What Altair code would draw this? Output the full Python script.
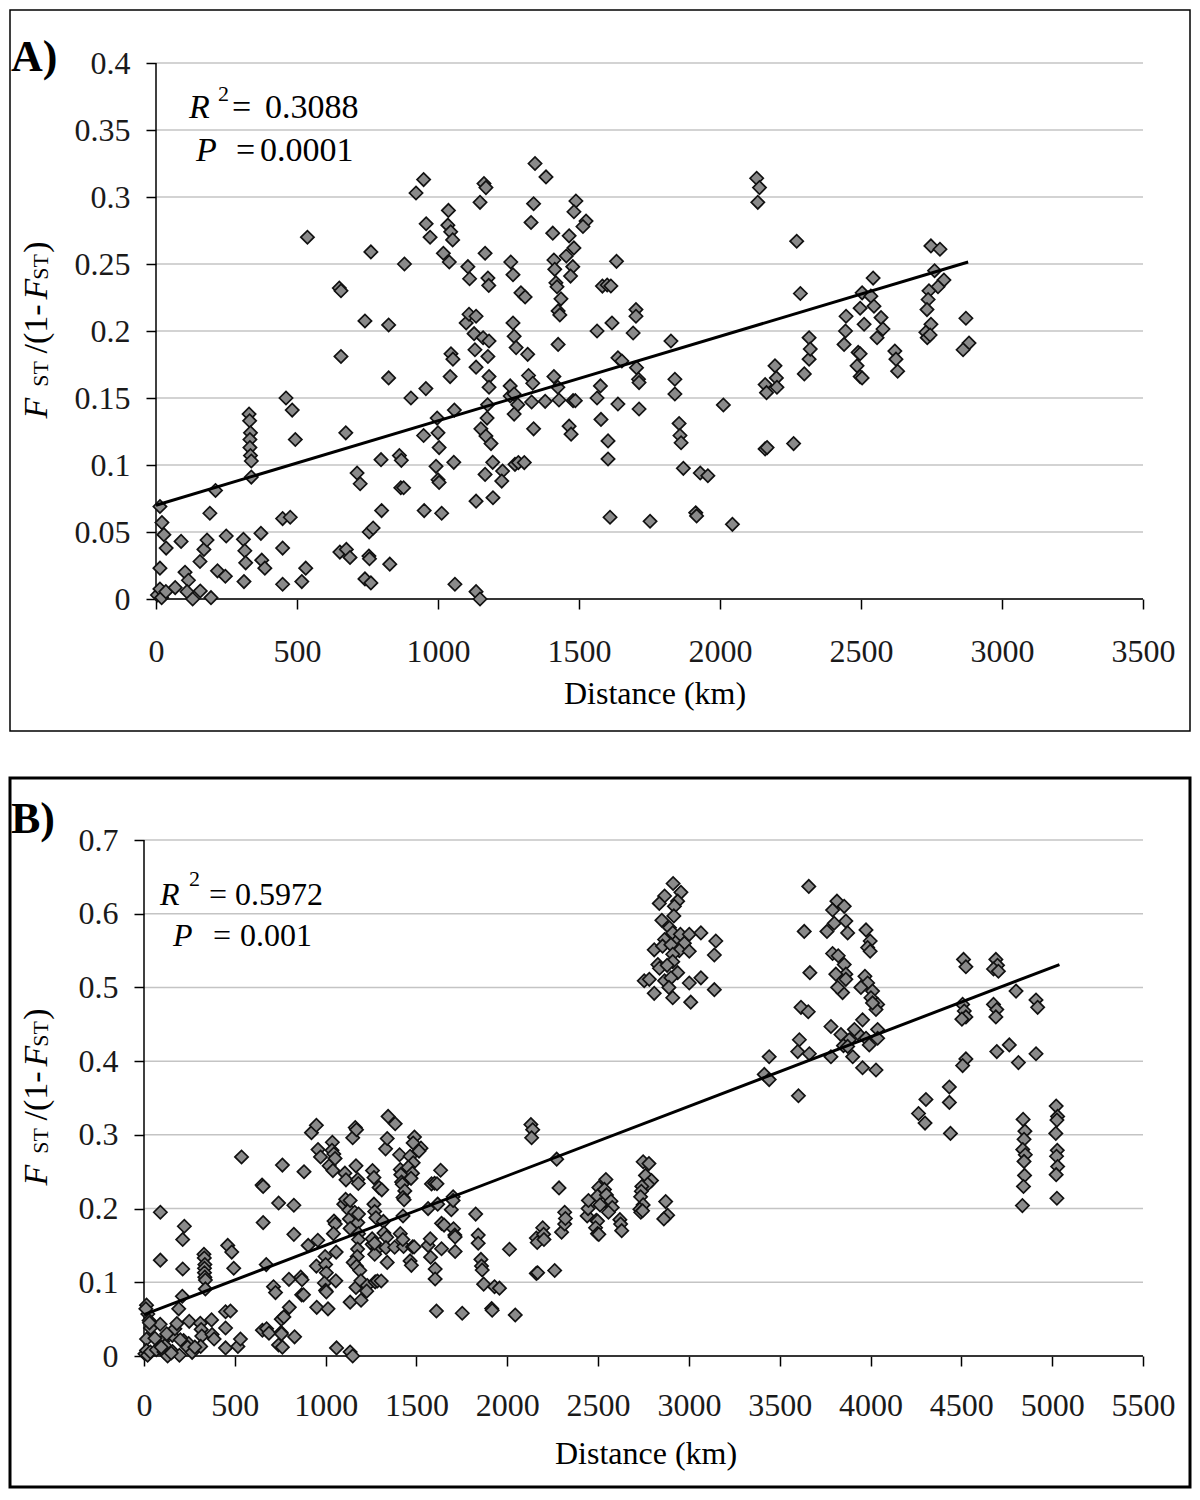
import altair as alt
import pandas as pd

SERIF = "Liberation Serif"

# ---------------- Panel A data (distance km, FST/(1-FST)) ----------------
a1_d = [5, 14, 21, 28, 36, 14, 14, 20, 35, 68, 89, 103, 115, 110, 130, 156, 170, 181, 191, 157, 195, 211, 218, 246, 249]
a1_f = [0.003, 0.069, 0.057, 0.048, 0.038, 0.023, 0.0075, 0.001, 0.0055, 0.0085, 0.043, 0.020, 0.014, 0.0055, 0.000,
        0.028, 0.037, 0.044, 0.064, 0.006, 0.001, 0.081, 0.021, 0.017, 0.047]
a2_d = [310, 315, 318, 312, 330, 332, 335, 333, 333, 335, 338, 338, 372, 375, 386, 449, 449, 449, 476, 461, 483, 494, 517, 531, 537]
a2_f = [0.0445, 0.036, 0.027, 0.013, 0.138, 0.133, 0.124, 0.119, 0.113, 0.107, 0.103, 0.091, 0.049, 0.029, 0.023,
        0.060, 0.038, 0.011, 0.061, 0.150, 0.141, 0.119, 0.013, 0.023, 0.270]
a3_d = [650, 656, 656, 652, 675, 688, 673, 713, 724, 741, 762, 741, 762, 755, 757, 756, 770, 800, 798, 825,
        825, 829, 863, 870, 868, 878, 881, 904, 922, 949, 949, 951, 957, 958, 972]
a3_f = [0.232, 0.230, 0.181, 0.035, 0.037, 0.031, 0.124, 0.094, 0.086, 0.2075, 0.259, 0.015, 0.012, 0.032, 0.030,
        0.050, 0.053, 0.066, 0.104, 0.165, 0.2045, 0.026, 0.107, 0.1035, 0.083, 0.083, 0.250, 0.150, 0.303, 0.313,
        0.122, 0.066, 0.157, 0.280, 0.270]
a4_d = [997, 1000, 1004, 993, 1000, 1004, 1013, 1056, 1019, 1040, 1037, 1035, 1045, 1052, 1046, 1053, 1043, 1058, 1060]
a4_f = [0.135, 0.124, 0.113, 0.099, 0.089, 0.087, 0.064, 0.102, 0.258, 0.2515, 0.290, 0.279, 0.274, 0.268, 0.183,
        0.179, 0.166, 0.141, 0.011]
a5_d = [1106, 1112, 1100, 1128, 1110, 1135, 1131, 1177, 1135, 1149, 1163, 1170, 1167, 1177, 1180, 1160, 1181, 1181,
        1181, 1176, 1174, 1152, 1170, 1188, 1167, 1194, 1135, 1195, 1135, 1149]
a5_f = [0.248, 0.239, 0.206, 0.198, 0.2125, 0.211, 0.186, 0.181, 0.173, 0.296, 0.310, 0.307, 0.258, 0.2395, 0.234,
        0.195, 0.1925, 0.166, 0.158, 0.145, 0.135, 0.127, 0.1216, 0.116, 0.093, 0.102, 0.073, 0.0756, 0.0055, 0.0]
a6_d = [1229, 1226, 1273, 1285, 1306, 1256, 1283, 1270, 1256, 1270, 1266, 1270, 1277, 1258, 1266, 1294, 1309, 1318,
        1321, 1336, 1332, 1380, 1429, 1339, 1330, 1339, 1344, 1383]
a6_f = [0.0955, 0.088, 0.1005, 0.1018, 0.1018, 0.1515, 0.145, 0.138, 0.159, 0.153, 0.206, 0.196, 0.1876, 0.2515,
        0.242, 0.2285, 0.2254, 0.1826, 0.1668, 0.161, 0.147, 0.1475, 0.1485, 0.127, 0.281, 0.295, 0.325, 0.315]
a7_d = [1407, 1465, 1482, 1411, 1455, 1478, 1414, 1470, 1418, 1422, 1436, 1426, 1432, 1426, 1411, 1425, 1489, 1482,
        1525, 1514, 1465, 1472, 1479, 1487]
a7_f = [0.273, 0.271, 0.262, 0.253, 0.256, 0.248, 0.246, 0.241, 0.236, 0.233, 0.224, 0.215, 0.212, 0.190, 0.166,
        0.158, 0.297, 0.289, 0.282, 0.278, 0.129, 0.123, 0.148, 0.148]
a8_d = [1564, 1576, 1564, 1583, 1600, 1613, 1617, 1633, 1638, 1652, 1638, 1578, 1603, 1603, 1610]
a8_f = [0.150, 0.159, 0.200, 0.2335, 0.2343, 0.2336, 0.206, 0.252, 0.180, 0.1776, 0.1455, 0.134, 0.118, 0.1045, 0.061]
a9_d = [1692, 1702, 1702, 1704, 1711, 1713, 1713, 1752, 1826, 1840, 1840, 1855, 1858, 1862, 1870, 1930, 1957, 1914,
        1917, 2012, 2044]
a9_f = [0.1985, 0.216, 0.211, 0.1726, 0.164, 0.1615, 0.1418, 0.058, 0.1925, 0.164, 0.153, 0.131, 0.122, 0.1166,
        0.0975, 0.094, 0.092, 0.0644, 0.062, 0.1448, 0.0557]
a10_d = [2130, 2140, 2134, 2160, 2165, 2195, 2200, 2202, 2160, 2167, 2261, 2272, 2285, 2299, 2316, 2316, 2320]
a10_f = [0.314, 0.307, 0.296, 0.160, 0.154, 0.174, 0.165, 0.158, 0.112, 0.113, 0.116, 0.267, 0.228, 0.168, 0.179,
         0.195, 0.1865]
a11_d = [2440, 2445, 2447, 2490, 2497, 2486, 2497, 2504, 2504, 2497, 2511, 2543, 2535, 2546, 2571, 2578, 2557, 2620,
         2624, 2630]
a11_f = [0.190, 0.200, 0.211, 0.184, 0.183, 0.174, 0.166, 0.165, 0.2285, 0.217, 0.205, 0.2395, 0.226, 0.2185, 0.210,
         0.2015, 0.195, 0.185, 0.179, 0.170]
a12_d = [2748, 2780, 2761, 2794, 2773, 2741, 2738, 2734, 2748, 2730, 2735, 2745, 2872, 2883, 2862]
a12_f = [0.2635, 0.261, 0.245, 0.238, 0.233, 0.230, 0.2235, 0.216, 0.205, 0.199, 0.195, 0.197, 0.2095, 0.191, 0.186]

# ---------------- Panel B: panel A pairs plus the extra populations ----------------
b1_d = [90, 90, 222, 213, 213, 10, 30, 60, 95, 125, 150, 200, 240, 265, 280]
b1_f = [0.195, 0.130, 0.176, 0.158, 0.118, 0.064, 0.045, 0.024, 0.012, 0.030, 0.004, 0.022, 0.012, 0.005, 0.012]
b2_d = [2913, 2956, 2938, 2866, 2837, 2920, 2917, 2851, 2893, 2866, 2911, 2935, 2953, 2975, 3002, 3066, 3148, 2809,
        2855, 2901, 2947, 3140, 2911, 2911, 2829, 2838, 2938, 3002, 2754, 2782, 2866, 2901, 3066, 2809, 2911, 3010,
        3002, 3140, 2880, 2890]
b2_f = [0.641, 0.629, 0.617, 0.624, 0.614, 0.610, 0.597, 0.591, 0.581, 0.565, 0.574, 0.563, 0.572, 0.560, 0.572,
        0.574, 0.563, 0.551, 0.556, 0.558, 0.550, 0.544, 0.545, 0.535, 0.531, 0.526, 0.520, 0.549, 0.509, 0.511,
        0.509, 0.513, 0.513, 0.492, 0.486, 0.480, 0.506, 0.497, 0.530, 0.500]
b3_d = [3660, 3635, 3666, 3617, 3657, 3608, 3599, 3663, 3442, 3415, 3442, 3603, 3815, 3855, 3791, 3800, 3864, 3874,
        3760, 3975, 3998, 3984, 3998, 3791, 3822, 3855, 3864, 3809, 3864, 3846, 3819, 3969, 3984, 3947, 4011, 4002,
        4039, 4030, 4011, 3782, 3837, 3883, 3929, 3975, 3993, 4039, 4039, 3911, 3956, 3851, 3902, 3956, 4030, 3782,
        3874]
b3_f = [0.637, 0.576, 0.520, 0.473, 0.467, 0.429, 0.413, 0.410, 0.406, 0.382, 0.375, 0.353, 0.617, 0.610, 0.605,
        0.587, 0.590, 0.574, 0.576, 0.578, 0.563, 0.554, 0.549, 0.546, 0.543, 0.531, 0.518, 0.518, 0.511, 0.493,
        0.500, 0.515, 0.506, 0.500, 0.495, 0.486, 0.477, 0.470, 0.479, 0.447, 0.436, 0.429, 0.438, 0.431, 0.422,
        0.443, 0.431, 0.443, 0.456, 0.421, 0.406, 0.391, 0.388, 0.406, 0.420]
b4_d = [4512, 4525, 4690, 4699, 4677, 4704, 4507, 4516, 4525, 4503, 4677, 4695, 4690, 4801, 4911, 4920, 4525, 4507,
        4695, 4764, 4814, 4911, 4305, 4434, 4434, 4264, 4300, 4440]
b4_f = [0.538, 0.528, 0.538, 0.530, 0.525, 0.522, 0.477, 0.468, 0.460, 0.457, 0.477, 0.470, 0.460, 0.495, 0.483,
        0.473, 0.403, 0.394, 0.413, 0.422, 0.398, 0.410, 0.348, 0.365, 0.344, 0.329, 0.316, 0.302]
b5_d = [4840, 4850, 4845, 4838, 4852, 4845, 4848, 4842, 4836, 5022, 5030, 5026, 5020, 5028, 5024, 5030, 5022, 5026]
b5_f = [0.321, 0.305, 0.294, 0.280, 0.273, 0.264, 0.245, 0.230, 0.204, 0.339, 0.325, 0.320, 0.302, 0.279, 0.271,
        0.257, 0.246, 0.214]

# Regression lines (end points)
line_a_d = [0, 2880]
line_a_f = [0.070, 0.2515]
line_b_d = [0, 5040]
line_b_f = [0.056, 0.531]

xticks_a = [0, 500, 1000, 1500, 2000, 2500, 3000, 3500]
yticks_a = [0, 0.05, 0.1, 0.15, 0.2, 0.25, 0.3, 0.35, 0.4]
xticks_b = [0, 500, 1000, 1500, 2000, 2500, 3000, 3500, 4000, 4500, 5000, 5500]
yticks_b = [0, 0.1, 0.2, 0.3, 0.4, 0.5, 0.6, 0.7]

dist_a = a1_d + a2_d + a3_d + a4_d + a5_d + a6_d + a7_d + a8_d + a9_d + a10_d + a11_d + a12_d
fst_a = a1_f + a2_f + a3_f + a4_f + a5_f + a6_f + a7_f + a8_f + a9_f + a10_f + a11_f + a12_f
dist_b = dist_a + b1_d + b2_d + b3_d + b4_d + b5_d
fst_b = fst_a + b1_f + b2_f + b3_f + b4_f + b5_f
assert len(dist_a) == len(fst_a) and len(dist_b) == len(fst_b)

ORIGIN_X = 143  # page x of the common plot-group origin


def txt(s, x, y, size, style="normal", weight="normal", angle=0, align="left", baseline="alphabetic"):
    return alt.Chart(pd.DataFrame({"t": [s]})).mark_text(
        font=SERIF, fontSize=size, fontStyle=style, fontWeight=weight, angle=angle,
        align=align, baseline=baseline, color="black"
    ).encode(text="t:N", x=alt.value(x), y=alt.value(y))


def panel(dist, fst, ld, lf, xmax, ymax, xt, yt, zero_px, top, w, h, box, box_sw, label, label_xy,
          stats, ytitle_x, lab_pad, xtitle_xy):
    """All *_xy / box / stats positions are page pixels; converted to plot-relative here."""
    ox, oy = ORIGIN_X, top
    sh = zero_px - ox                       # pixels between group origin and x = 0
    ppk = (w - sh) / xmax                   # pixels per km
    xs = alt.Scale(domain=[-sh / ppk, xmax], nice=False, zero=False)
    ys = alt.Scale(domain=[0, ymax], nice=False)
    xaxis = alt.Axis(values=xt, format="d", grid=False, domain=False,
                     tickSize=10, tickColor="black", tickWidth=1.5, labelFont=SERIF, labelFontSize=32,
                     labelColor="#1a1a1a", labelPadding=lab_pad, labelFlush=False, labelOverlap=False,
                     title=None)
    yaxis = alt.Axis(values=yt, format=".2~f", grid=False, domain=False, offset=-sh,
                     tickSize=10, tickColor="black", tickWidth=1.5,
                     labelFont=SERIF, labelFontSize=32, labelColor="#1a1a1a", labelPadding=16,
                     labelFlush=False, labelOverlap=False, title=None)

    X = lambda: alt.X("d:Q", scale=xs, axis=xaxis)
    Y = lambda: alt.Y("f:Q", scale=ys, axis=yaxis)

    df = pd.DataFrame({"d": dist, "f": fst})
    ldf = pd.DataFrame({"d": ld, "f": lf})
    grid_df = pd.DataFrame({"d": [0] * len(yt), "d2": [xmax] * len(yt), "f": yt})
    xdom_df = pd.DataFrame({"d": [0], "d2": [xmax], "f": [0]})
    ydom_df = pd.DataFrame({"d": [0], "f": [0], "f2": [ymax]})

    grid = alt.Chart(grid_df).mark_rule(color="#c4c4c4", strokeWidth=1.5).encode(
        x=X(), x2="d2:Q", y=Y())
    pts = alt.Chart(df).mark_point(
        shape="diamond", filled=True, size=175, fill="#8a8a8a", stroke="#111111",
        strokeWidth=1.7, fillOpacity=1, strokeOpacity=1
    ).encode(x=X(), y=Y())
    line = alt.Chart(ldf).mark_line(color="black", strokeWidth=3).encode(x=X(), y=Y())
    xdom = alt.Chart(xdom_df).mark_rule(color="black", strokeWidth=1.5).encode(x=X(), x2="d2:Q", y=Y())
    ydom = alt.Chart(ydom_df).mark_rule(color="black", strokeWidth=1.5).encode(x=X(), y=Y(), y2="f2:Q")
    border = alt.Chart(pd.DataFrame({"a": [0]})).mark_rect(
        fillOpacity=0, stroke="black", strokeWidth=box_sw
    ).encode(x=alt.value(box[0] - ox), x2=alt.value(box[1] - ox),
             y=alt.value(box[2] - oy), y2=alt.value(box[3] - oy))

    layers = [grid, xdom, ydom, pts, line]
    layers.append(txt(label, label_xy[0] - ox, label_xy[1] - oy, 44, weight="bold"))
    (rx, ry, r2x, r2y, eq1x, v1x, v1, px, py, eq2x, v2x, v2, fs) = stats
    layers += [
        txt("R", rx - ox, ry - oy, fs, style="italic"),
        txt("2", r2x - ox, r2y - oy, 22),
        txt("=", eq1x - ox, ry - oy, fs),
        txt(v1, v1x - ox, ry - oy, fs),
        txt("P", px - ox, py - oy, fs, style="italic"),
        txt("=", eq2x - ox, py - oy, fs),
        txt(v2, v2x - ox, py - oy, fs),
    ]
    # y title: F_ST/(1-F_ST), rotated
    c = h / 2
    bx = ytitle_x - ox
    layers += [
        txt("F", bx, c + 77, 34, style="italic", angle=270, align="center"),
        txt("ST", bx + 1, c + 43, 22, angle=270, align="center"),
        txt("/(1-", bx, c - 2, 34, angle=270, align="center"),
        txt("F", bx, c - 42, 34, style="italic", angle=270, align="center"),
        txt("ST", bx + 1, c - 64, 22, angle=270, align="center"),
        txt(")", bx, c - 84, 34, angle=270, align="center"),
    ]
    layers.append(txt("Distance (km)", xtitle_xy[0] - ox, xtitle_xy[1] - oy, 32, align="center"))
    layers.append(border)
    return alt.layer(*layers).properties(width=w, height=h)


panel_a = panel(dist_a, fst_a, line_a_d, line_a_f, 3500, 0.4, xticks_a, yticks_a,
                zero_px=155, top=62, w=999, h=536,
                box=(9, 1189, 9, 730), box_sw=1.5, label="A)", label_xy=(10, 70),
                stats=(188, 117, 217, 100, 231, 264, "0.3088", 195, 160, 235, 259, "0.0001", 34),
                ytitle_x=46, lab_pad=27, xtitle_xy=(654, 703))

panel_b = panel(dist_b, fst_b, line_b_d, line_b_f, 5500, 0.7, xticks_b, yticks_b,
                zero_px=143, top=837, w=999, h=516,
                box=(9, 1189, 775, 1484), box_sw=3, label="B)", label_xy=(10, 830),
                stats=(159, 902, 188, 883, 208, 234, "0.5972", 172, 943, 212, 239, "0.001", 32),
                ytitle_x=46, lab_pad=24, xtitle_xy=(645, 1461))

chart = alt.concat(panel_a, panel_b, columns=1, spacing=43).properties(
    padding=0, background="white"
).configure_view(stroke="transparent")

chart.save("out.html", embed_options={"renderer": "svg", "actions": False})
